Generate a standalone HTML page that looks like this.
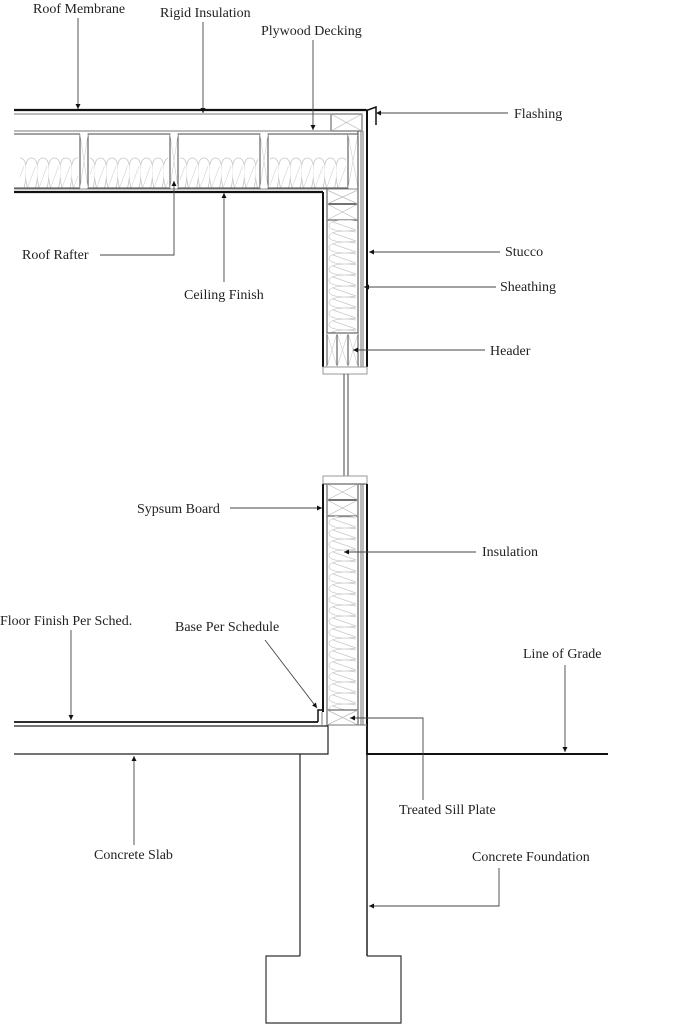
<!DOCTYPE html>
<html><head><meta charset="utf-8"><style>
html,body{margin:0;padding:0;background:#fff}
svg{display:block}
text{font-family:"Liberation Serif",serif;font-size:14px;fill:#222}
</style></head><body>
<svg width="693" height="1024" viewBox="0 0 693 1024" xmlns="http://www.w3.org/2000/svg">
<defs>
<pattern id="rins" x="14" y="156" width="11.5" height="40" patternUnits="userSpaceOnUse">
<path d="M2,32 C-1,20 -2,2 6,2 C14,2 13,20 10,32" fill="none" stroke="#c4c4c4" stroke-width="0.8"/>
<path d="M2,32 L10,10" fill="none" stroke="#d4d4d4" stroke-width="0.6"/>
</pattern>
<pattern id="wins" x="327" y="220" width="31" height="11" patternUnits="userSpaceOnUse">
<path d="M29,1 C18,-1 2,0 2,5.5 C2,11 18,12 29,10 M29,10 L6,2" fill="none" stroke="#c8c8c8" stroke-width="0.7"/>
</pattern>
<marker id="a" markerWidth="6" markerHeight="6" refX="5" refY="3" orient="auto" markerUnits="userSpaceOnUse"><path d="M0,0.5 L5,3 L0,5.5z" fill="#111"/></marker>
</defs>

<!-- ROOF -->
<g stroke="#111" fill="none">
<line x1="14" y1="110" x2="366" y2="110" stroke-width="2.2"/>
<line x1="14" y1="114" x2="331" y2="114" stroke="#777"/>
<line x1="14" y1="131" x2="362" y2="131" stroke="#777"/>
<rect x="331" y="114" width="31" height="17" stroke="#555"/>
<path d="M331,114 L362,131 M362,114 L331,131" stroke="#bbb" stroke-width="0.7"/>
<path d="M357,110 L368,110 L376,107 L376,125" stroke-width="1.5"/>
</g>
<!-- insulation -->
<g fill="url(#rins)" stroke="none">
<rect x="20" y="156" width="58" height="32"/>
<rect x="90" y="156" width="78" height="32"/>
<rect x="180" y="156" width="78" height="32"/>
<rect x="270" y="156" width="76" height="32"/>
</g>
<g stroke="#444" fill="none">
<rect x="88" y="134" width="82" height="54"/>
<rect x="178" y="134" width="82" height="54"/>
<rect x="268" y="134" width="80" height="54"/>
<line x1="14" y1="134" x2="80" y2="134"/><line x1="14" y1="188" x2="80" y2="188"/>
<line x1="80" y1="134" x2="80" y2="188"/>
<line x1="358" y1="134" x2="358" y2="188"/>
<line x1="348" y1="134" x2="358" y2="134"/>
<path d="M80,134 L88,188 M88,134 L80,188 M170,134 L178,188 M178,134 L170,188 M260,134 L268,188 M268,134 L260,188 M348,134 L358,188 M358,134 L348,188" stroke="#ccc" stroke-width="0.6"/>
<line x1="14" y1="189" x2="358" y2="189" stroke="#888"/>
<line x1="14" y1="192" x2="323" y2="192" stroke-width="2.2" stroke="#111"/>
</g>

<!-- UPPER WALL -->
<g fill="none" stroke="#111">
<line x1="323" y1="192" x2="323" y2="367" stroke-width="2"/>
<line x1="327" y1="189" x2="327" y2="367" stroke="#444"/>
<line x1="358" y1="131" x2="358" y2="367" stroke="#444"/>
<line x1="361" y1="131" x2="361" y2="367" stroke="#777"/>
<line x1="363" y1="131" x2="363" y2="367" stroke="#777"/>
<line x1="367" y1="110" x2="367" y2="367" stroke-width="2"/>
<line x1="327" y1="204" x2="358" y2="204" stroke="#444" stroke-width="1.5"/>
<line x1="327" y1="220" x2="358" y2="220" stroke="#444"/>
<path d="M327,190 L358,204 M358,190 L327,204 M327,204 L358,220 M358,204 L327,220" stroke="#bbb" stroke-width="0.7"/>
<rect x="327" y="220" width="31" height="113" fill="url(#wins)" stroke="none"/>
<rect x="327" y="333" width="31" height="34" stroke="#444"/>
<line x1="337" y1="333" x2="337" y2="367" stroke="#444"/><line x1="348" y1="333" x2="348" y2="367" stroke="#444"/>
<path d="M327,333 L337,367 M337,333 L327,367 M337,333 L348,367 M348,333 L337,367 M348,333 L358,367 M358,333 L348,367" stroke="#ccc" stroke-width="0.6"/>
<line x1="323" y1="367" x2="367" y2="367" stroke="#444"/>
<rect x="323" y="367" width="44" height="7" stroke="#999"/>
<line x1="344" y1="374" x2="344" y2="476" stroke="#444"/>
<line x1="348" y1="374" x2="348" y2="476" stroke="#444"/>
</g>

<!-- LOWER WALL -->
<g fill="none" stroke="#111">
<rect x="323" y="476" width="44" height="8" stroke="#999"/>
<line x1="323" y1="484" x2="323" y2="712" stroke-width="2"/>
<line x1="327" y1="484" x2="327" y2="725" stroke="#444"/>
<line x1="358" y1="484" x2="358" y2="725" stroke="#444"/>
<line x1="361" y1="484" x2="361" y2="725" stroke="#777"/>
<line x1="363" y1="484" x2="363" y2="725" stroke="#777"/>
<line x1="367" y1="484" x2="367" y2="755" stroke-width="2"/>
<line x1="323" y1="484" x2="367" y2="484" stroke="#444"/>
<rect x="327" y="484" width="31" height="32" stroke="#444"/>
<line x1="327" y1="500" x2="358" y2="500" stroke="#444" stroke-width="1.5"/>
<path d="M327,484 L358,500 M358,484 L327,500 M327,500 L358,516 M358,500 L327,516" stroke="#bbb" stroke-width="0.7"/>
<rect x="327" y="516" width="31" height="194" fill="url(#wins)" stroke="none"/>
<rect x="327" y="710" width="31" height="15" stroke="#444"/>
<path d="M327,710 L358,725 M358,710 L327,725" stroke="#bbb" stroke-width="0.7"/>
<line x1="14" y1="722" x2="318" y2="722" stroke-width="1.8"/>
<path d="M14,726 L328,726 L328,754 L14,754" stroke="#222" stroke-width="1.2"/>
<path d="M318,722 L318,710 L323,710" stroke-width="1.5"/>
<line x1="322" y1="712" x2="322" y2="726" stroke="#777"/>
<line x1="300" y1="754" x2="300" y2="956" stroke="#222" stroke-width="1.2"/>
<line x1="367" y1="725" x2="367" y2="956" stroke="#222" stroke-width="1.5"/>
<path d="M300,956 L266,956 L266,1023 L401,1023 L401,956 L367,956" stroke="#333" stroke-width="1.2"/>
<line x1="367" y1="754" x2="608" y2="754" stroke-width="2"/>
<line x1="328" y1="725" x2="367" y2="725" stroke="#777"/>
</g>

<!-- LEADERS -->
<g stroke="#444" fill="none" stroke-width="0.9" marker-end="url(#a)">
<path d="M78,18 L78,109"/>
<path d="M203,22 L203,113"/>
<path d="M313,40 L313,130"/>
<path d="M508,113 L376,113"/>
<path d="M100,255 L174,255 L174,181"/>
<path d="M224,282 L224,193"/>
<path d="M500,252 L369,252"/>
<path d="M496,287 L364,287"/>
<path d="M485,350 L353,350"/>
<path d="M230,508 L322,508"/>
<path d="M476,552 L344,552"/>
<path d="M71,630 L71,720"/>
<path d="M265,640 L317,708"/>
<path d="M565,665 L565,752"/>
<path d="M423,800 L423,718 L350,718"/>
<path d="M134,845 L134,756"/>
<path d="M499,868 L499,906 L369,906"/>
</g>

<text x="33" y="13">Roof Membrane</text>
<text x="160" y="17">Rigid Insulation</text>
<text x="261" y="35">Plywood Decking</text>
<text x="514" y="118">Flashing</text>
<text x="22" y="259">Roof Rafter</text>
<text x="184" y="299">Ceiling Finish</text>
<text x="505" y="256">Stucco</text>
<text x="500" y="291">Sheathing</text>
<text x="490" y="355">Header</text>
<text x="137" y="513">Sypsum Board</text>
<text x="482" y="556">Insulation</text>
<text x="0" y="625">Floor Finish Per Sched.</text>
<text x="175" y="631">Base Per Schedule</text>
<text x="523" y="658">Line of Grade</text>
<text x="399" y="814">Treated Sill Plate</text>
<text x="94" y="859">Concrete Slab</text>
<text x="472" y="861">Concrete Foundation</text>
</svg>
</body></html>
